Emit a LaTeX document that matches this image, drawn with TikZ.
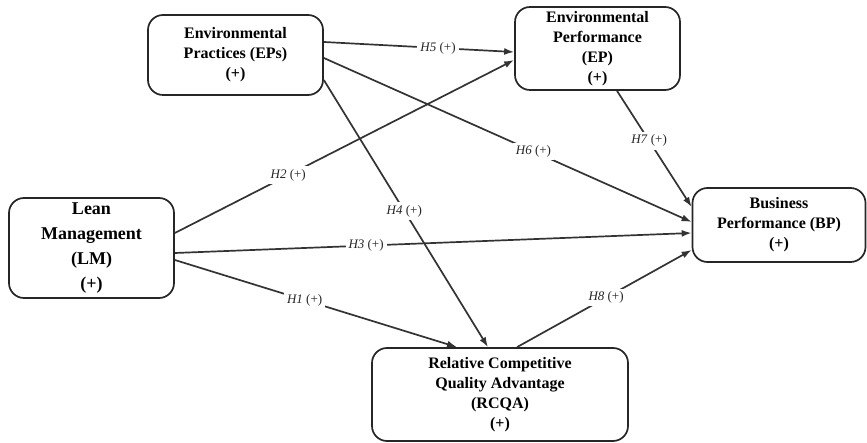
\documentclass[tikz,border=0pt]{standalone}
\usepackage{fontspec}
\setmainfont{Liberation Serif}
\usetikzlibrary{arrows.meta,calc}
\begin{document}
\begin{tikzpicture}[x=1pt,y=-1pt,
  box/.style={draw=black!85,line width=1.7pt,rounded corners=15pt,align=center,inner sep=0pt,font=\bfseries\fontsize{16}{20}\selectfont},
  conn/.style={draw=black!80,line width=1.7pt,-{Latex[length=10pt,width=7pt]}},
  hlab/.style={fill=white,inner sep=3pt,font=\fontsize{13}{15}\selectfont,text=black!85}
]
\useasboundingbox (0,0) rectangle (867,443);
\node[box,minimum width=165pt,minimum height=100pt,font=\bfseries\fontsize{18}{25}\selectfont] (lm) at (91.5,248) {Lean\\Management\\(LM)\\(+)};
\node[box,minimum width=175pt,minimum height=80pt] (eps) at (235.5,55) {Environmental\\Practices (EPs)\\(+)};
\node[box,minimum width=165pt,minimum height=83pt] (ep) at (597.5,48.5) {Environmental\\Performance\\(EP)\\(+)};
\node[box,minimum width=173pt,minimum height=74pt] (bp) at (779,225) {Business\\Performance (BP)\\(+)};
\node[box,minimum width=256pt,minimum height=93pt] (rc) at (500,394.5) {Relative Competitive\\Quality Advantage\\(RCQA)\\(+)};

\draw[conn] ([yshift=13pt]eps.east) -- node[hlab,pos=0.6] {\textit{H5} (+)} ([yshift=-3.5pt]ep.west);
\draw[conn] ([yshift=15pt]lm.east) -- node[hlab,pos=0.334] {\textit{H2} (+)} ([yshift=-11.5pt]ep.west);
\draw[conn] ([yshift=-3pt]eps.east) -- node[hlab,pos=0.57] {\textit{H6} (+)} ([yshift=3pt]bp.west);
\draw[conn] ([xshift=19.5pt]ep.south) -- node[hlab,pos=0.43] {\textit{H7} (+)} ([yshift=18pt]bp.west);
\draw[conn] ([yshift=-25pt]eps.east) -- node[hlab,pos=0.49] {\textit{H4} (+)} ([xshift=-12pt]rc.north);
\draw[conn] ([yshift=-5pt]lm.east) -- node[hlab,pos=0.37] {\textit{H3} (+)} ([yshift=-8pt]bp.west);
\draw[conn] ([yshift=-12pt]lm.east) -- node[hlab,pos=0.46] {\textit{H1} (+)} ([xshift=-43pt]rc.north);
\draw[conn] ([xshift=17pt]rc.north) -- node[hlab,pos=0.51] {\textit{H8} (+)} ([yshift=-25pt]bp.west);
\end{tikzpicture}
\end{document}
